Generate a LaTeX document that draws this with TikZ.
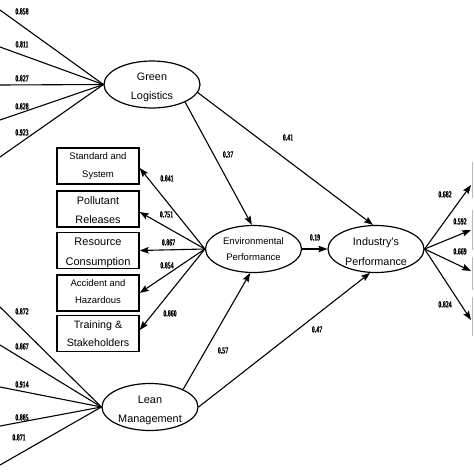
\documentclass[tikz,border=0pt]{standalone}
\usepackage{fontspec}
\setmainfont{Liberation Serif}
\setsansfont{Liberation Sans}
\newfontfamily\numfont{Liberation Serif}[UprightFont=* Bold, FakeBold=1.2]
\usepackage{graphicx}
\usetikzlibrary{arrows.meta,shapes.geometric}
\newcommand\numsq[1]{\scalebox{0.64}[1]{#1}}
\begin{document}
\begin{tikzpicture}[x=1pt,y=-1pt,
 lv/.style={ellipse,draw,line width=1.2pt,minimum width=96pt,minimum height=47pt,inner sep=0pt},
 bx/.style={draw,line width=1.4pt,minimum width=82pt,minimum height=36pt,inner sep=0pt},
 tx/.style={font=\sffamily\fontsize{#1}{#1}\selectfont, inner sep=0pt, text height=0.72em, text depth=0.18em},
 nm/.style={font=\numfont\fontsize{9.2}{10}\selectfont, inner sep=0pt, text height=0.68em, text depth=0pt},
 ln/.style={line width=1.1pt},
 ar/.style={line width=1.1pt,-{Stealth[length=9pt,width=6.5pt,inset=1.5pt]}},
 cutbox/.style={gray!55,line width=1.5pt}
]
\useasboundingbox[fill=white] (0,0) rectangle (474,474);

% latent variables
\node[lv] (gl) at (152,84.5) {};
\node[lv] (env) at (253.5,249) {};
\node[lv] (ind) at (376,249) {};
\node[lv] (lm) at (150,407) {};

\node[tx=10.8] (glt1) at (152,78) {Green};
\node[tx=10.8] (glt2) at (152,97) {Logistics};
\node[tx=9.5] (envt1) at (253.5,242) {Environmental};
\node[tx=9.5] (envt2) at (253.5,258) {Performance};
\node[tx=10.8] (indt1) at (376,243) {Industry's};
\node[tx=10.8] (indt2) at (376,263) {Performance};
\node[tx=10.9] (lmt1) at (150,401) {Lean};
\node[tx=10.9] (lmt2) at (150,420) {Management};

% indicator boxes
\node[bx] (b1) at (98,166) {};
\node[bx] (b2) at (98,209) {};
\node[bx] (b3) at (98,250.5) {};
\node[bx] (b4) at (98,293) {};
\node[bx] (b5) at (98,333.5) {};

\node[tx=9.5] (b1t1) at (98,157) {Standard and};
\node[tx=9.5] (b1t2) at (98,175) {System};
\node[tx=10.8] (b2t1) at (98,202) {Pollutant};
\node[tx=10.8] (b2t2) at (98,221) {Releases};
\node[tx=11] (b3t1) at (98,243) {Resource};
\node[tx=11] (b3t2) at (98,263) {Consumption};
\node[tx=9.5] (b4t1) at (98,284) {Accident and};
\node[tx=9.5] (b4t2) at (98,301) {Hazardous};
\node[tx=10.7] (b5t1) at (98,326) {Training \&};
\node[tx=10.7] (b5t2) at (98,344) {Stakeholders};

% cut-off boxes at right edge
\coordinate (c1a) at (472.5,162); \coordinate (c1b) at (472.5,198);
\coordinate (c2a) at (472.5,210); \coordinate (c2b) at (472.5,250);
\coordinate (c3a) at (472.5,257); \coordinate (c3b) at (472.5,290);
\coordinate (c4a) at (472.5,297); \coordinate (c4b) at (472.5,336);
\draw[cutbox] (c1a) -- (c1b);
\draw[cutbox] (c2a) -- (c2b);
\draw[cutbox] (c3a) -- (c3b);
\draw[cutbox] (c4a) -- (c4b);

% free ends
\coordinate (g1) at (0,10);
\coordinate (g2) at (0,47);
\coordinate (g3) at (0,85);
\coordinate (g4) at (0,120);
\coordinate (g5) at (0,157);
\coordinate (l1) at (0,307);
\coordinate (l2) at (0,345);
\coordinate (l3) at (0,387);
\coordinate (l4) at (0,426);
\coordinate (l5) at (0,465);
\coordinate (r1) at (471,185);
\coordinate (r2) at (471,230);
\coordinate (r3) at (471,271);
\coordinate (r4) at (471,320);

\foreach \p in {g1,g2,g3,g4,g5} \draw[ln] (\p) -- (gl.west);
\foreach \p in {l1,l2,l3,l4,l5} \draw[ln] (\p) -- (lm.west);

% structural paths
\draw[ar] (gl.-28) -- (env.94);
\draw[ar] (gl.-10) -- (ind.97);
\draw[ar] (env.east) -- (ind.west);
\draw[ar] (lm.28) -- (env.262);
\draw[ar] (lm.east) -- (ind.256);

% env to boxes
\draw[ar] (env.west) -- ([yshift=-2pt]b1.east);
\draw[ar] (env.west) -- ([yshift=-3pt]b2.east);
\draw[ar] (env.west) -- (b3.east);
\draw[ar] (env.west) -- (b4.east);
\draw[ar] (env.west) -- ([yshift=3.5pt]b5.east);

% ind to right
\foreach \p in {r1,r2,r3,r4} \draw[ar] (ind.east) -- (\p);

% numbers
\node[nm] (n1) at (22,11) {\numsq{0.858}};
\node[nm] (n2) at (22,44) {\numsq{0.811}};
\node[nm] (n3) at (22,78) {\numsq{0.827}};
\node[nm] (n4) at (22,106) {\numsq{0.828}};
\node[nm] (n5) at (22,132) {\numsq{0.923}};
\node[nm] (n6) at (22,311) {\numsq{0.872}};
\node[nm] (n7) at (22,346) {\numsq{0.867}};
\node[nm] (n8) at (22,384) {\numsq{0.914}};
\node[nm] (n9) at (22,417) {\numsq{0.885}};
\node[nm] (n10) at (19,437) {\numsq{0.871}};
\node[nm] (n11) at (167,178) {\numsq{0.841}};
\node[nm] (n12) at (166.5,214) {\numsq{0.751}};
\node[nm] (n13) at (168.5,242) {\numsq{0.867}};
\node[nm] (n14) at (167,265) {\numsq{0.854}};
\node[nm] (n15) at (170,313) {\numsq{0.860}};
\node[nm] (n16) at (228,154) {\numsq{0.37}};
\node[nm] (n17) at (288,137) {\numsq{0.41}};
\node[nm] (n18) at (315,237) {\numsq{0.19}};
\node[nm] (n19) at (223,350) {\numsq{0.57}};
\node[nm] (n20) at (317,329) {\numsq{0.47}};
\node[nm] (n21) at (445,194) {\numsq{0.682}};
\node[nm] (n22) at (460,221) {\numsq{0.592}};
\node[nm] (n23) at (460,251) {\numsq{0.669}};
\node[nm] (n24) at (445,304) {\numsq{0.824}};
\end{tikzpicture}
\end{document}
